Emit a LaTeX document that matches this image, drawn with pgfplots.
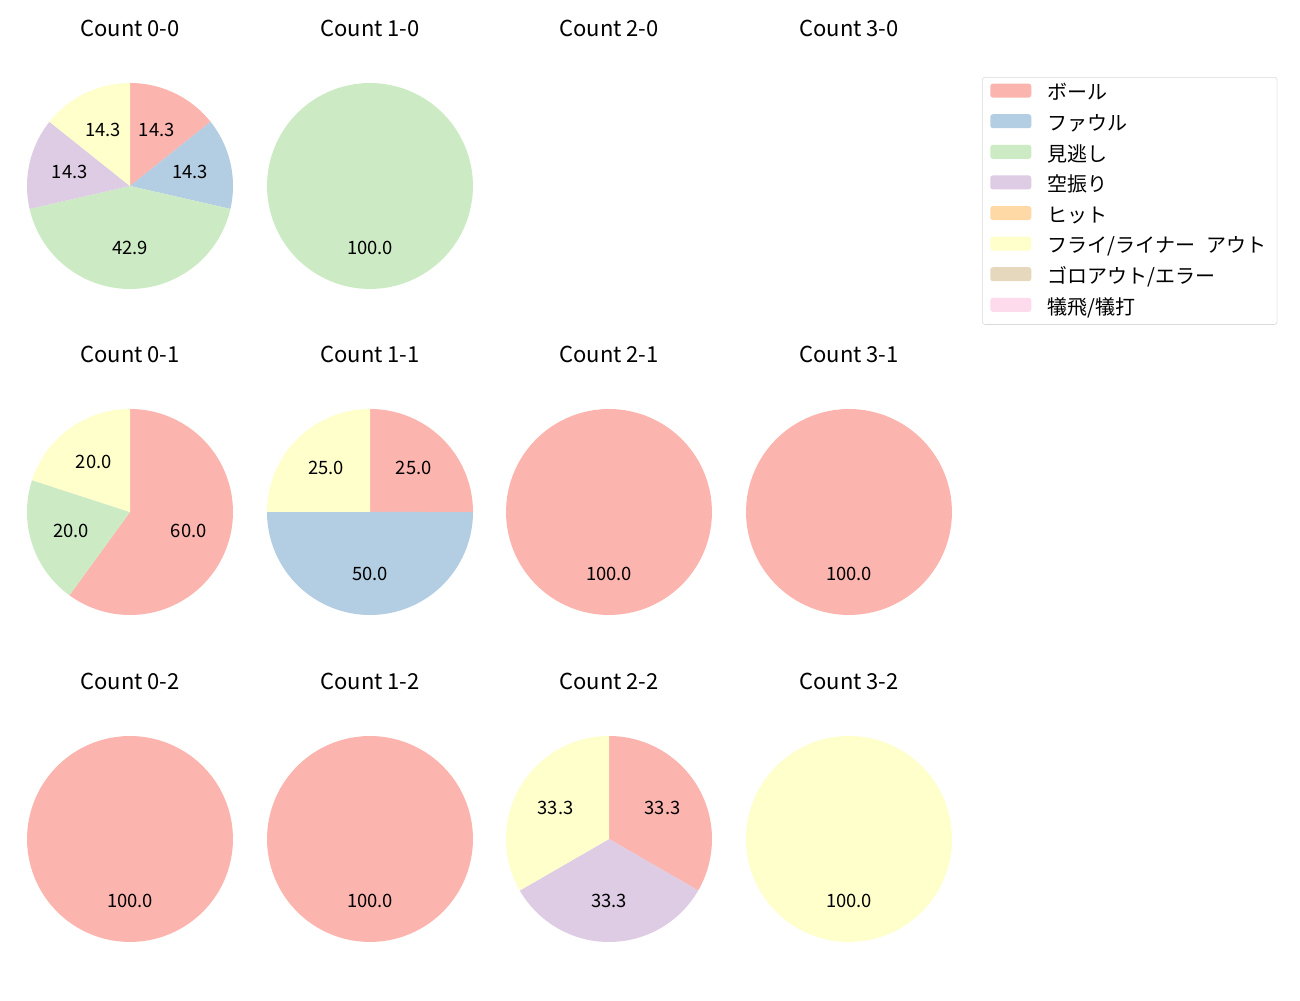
\documentclass[border=0pt]{standalone}
\usepackage{fontspec}
\setmainfont{Noto Sans CJK JP}
\usepackage{pgfplots}
\pgfplotsset{compat=1.18}
\definecolor{c1}{HTML}{FBB4AE}
\definecolor{c2}{HTML}{B3CDE3}
\definecolor{c3}{HTML}{CCEBC5}
\definecolor{c4}{HTML}{DECBE4}
\definecolor{c5}{HTML}{FED9A6}
\definecolor{c6}{HTML}{FFFFCC}
\definecolor{c7}{HTML}{E5D8BD}
\definecolor{c8}{HTML}{FDDAEC}
\pgfplotsset{pie/.style={scale only axis, width=154.5pt, height=154.5pt,
  xmin=-1, xmax=1, ymin=-1, ymax=1, hide axis, anchor=center, clip=false,
  title style={at={(0.5,1)}, anchor=center, yshift=35.25pt, font=\fontsize{16.5}{18}\selectfont}}}
% color, cumulative percent before, percent, label
\newcommand{\pslice}[4]{%
  \addplot[fill=#1, draw=none, domain=90-3.6*(#2+#3):90-3.6*#2, samples=90, forget plot]
    ({cos(x)},{sin(x)}) -- (axis cs:0,0) -- cycle;
  \node[font=\fontsize{13.8}{15}\selectfont] at (axis cs:{0.6*cos(90-3.6*(#2+#3/2))},{0.6*sin(90-3.6*(#2+#3/2))}) {#4};
}
\begin{document}
\begin{tikzpicture}
\path (0,0) rectangle (975pt,750pt);
% row 1
\begin{axis}[pie, at={(97.5pt,610.5pt)}, title={Count 0-0},
  legend style={at={(4.636,1.029)}, anchor=north west, draw=black!15, rounded corners=2pt,
    font=\fontsize{15}{17}\selectfont, row sep=7.7pt, inner xsep=6pt, inner ysep=4.75pt,
    nodes={inner ysep=0pt, text height=10pt, text depth=3pt},
    /tikz/every odd column/.append style={column sep=10.5pt}},
  legend cell align=left,
  legend image code/.code={\fill[#1, draw=none] (0pt,-1.75pt) rectangle (30.75pt,8.75pt);}]
\pslice{c1}{0}{14.2857}{14.3}
\pslice{c2}{14.2857}{14.2857}{14.3}
\pslice{c3}{28.5714}{42.8571}{42.9}
\pslice{c4}{71.4286}{14.2857}{14.3}
\pslice{c6}{85.7143}{14.2857}{14.3}
\addlegendimage{fill=c1}\addlegendentry{ボール}
\addlegendimage{fill=c2}\addlegendentry{ファウル}
\addlegendimage{fill=c3}\addlegendentry{見逃し}
\addlegendimage{fill=c4}\addlegendentry{空振り}
\addlegendimage{fill=c5}\addlegendentry{ヒット}
\addlegendimage{fill=c6}\addlegendentry{フライ/ライナー\hspace{0.55em}アウト}
\addlegendimage{fill=c7}\addlegendentry{ゴロアウト/エラー}
\addlegendimage{fill=c8}\addlegendentry{犠飛/犠打}
\end{axis}
\begin{axis}[pie, at={(277.5pt,610.5pt)}, title={Count 1-0}]
\pslice{c3}{0}{100}{100.0}
\end{axis}
\begin{axis}[pie, at={(456.75pt,610.5pt)}, title={Count 2-0}]
\end{axis}
\begin{axis}[pie, at={(636.75pt,610.5pt)}, title={Count 3-0}]
\end{axis}
% row 2
\begin{axis}[pie, at={(97.5pt,366pt)}, title={Count 0-1}]
\pslice{c1}{0}{60}{60.0}
\pslice{c3}{60}{20}{20.0}
\pslice{c6}{80}{20}{20.0}
\end{axis}
\begin{axis}[pie, at={(277.5pt,366pt)}, title={Count 1-1}]
\pslice{c1}{0}{25}{25.0}
\pslice{c2}{25}{50}{50.0}
\pslice{c6}{75}{25}{25.0}
\end{axis}
\begin{axis}[pie, at={(456.75pt,366pt)}, title={Count 2-1}]
\pslice{c1}{0}{100}{100.0}
\end{axis}
\begin{axis}[pie, at={(636.75pt,366pt)}, title={Count 3-1}]
\pslice{c1}{0}{100}{100.0}
\end{axis}
% row 3
\begin{axis}[pie, at={(97.5pt,120.75pt)}, title={Count 0-2}]
\pslice{c1}{0}{100}{100.0}
\end{axis}
\begin{axis}[pie, at={(277.5pt,120.75pt)}, title={Count 1-2}]
\pslice{c1}{0}{100}{100.0}
\end{axis}
\begin{axis}[pie, at={(456.75pt,120.75pt)}, title={Count 2-2}]
\pslice{c1}{0}{33.3333}{33.3}
\pslice{c4}{33.3333}{33.3333}{33.3}
\pslice{c6}{66.6667}{33.3333}{33.3}
\end{axis}
\begin{axis}[pie, at={(636.75pt,120.75pt)}, title={Count 3-2}]
\pslice{c6}{0}{100}{100.0}
\end{axis}
\end{tikzpicture}
\end{document}
